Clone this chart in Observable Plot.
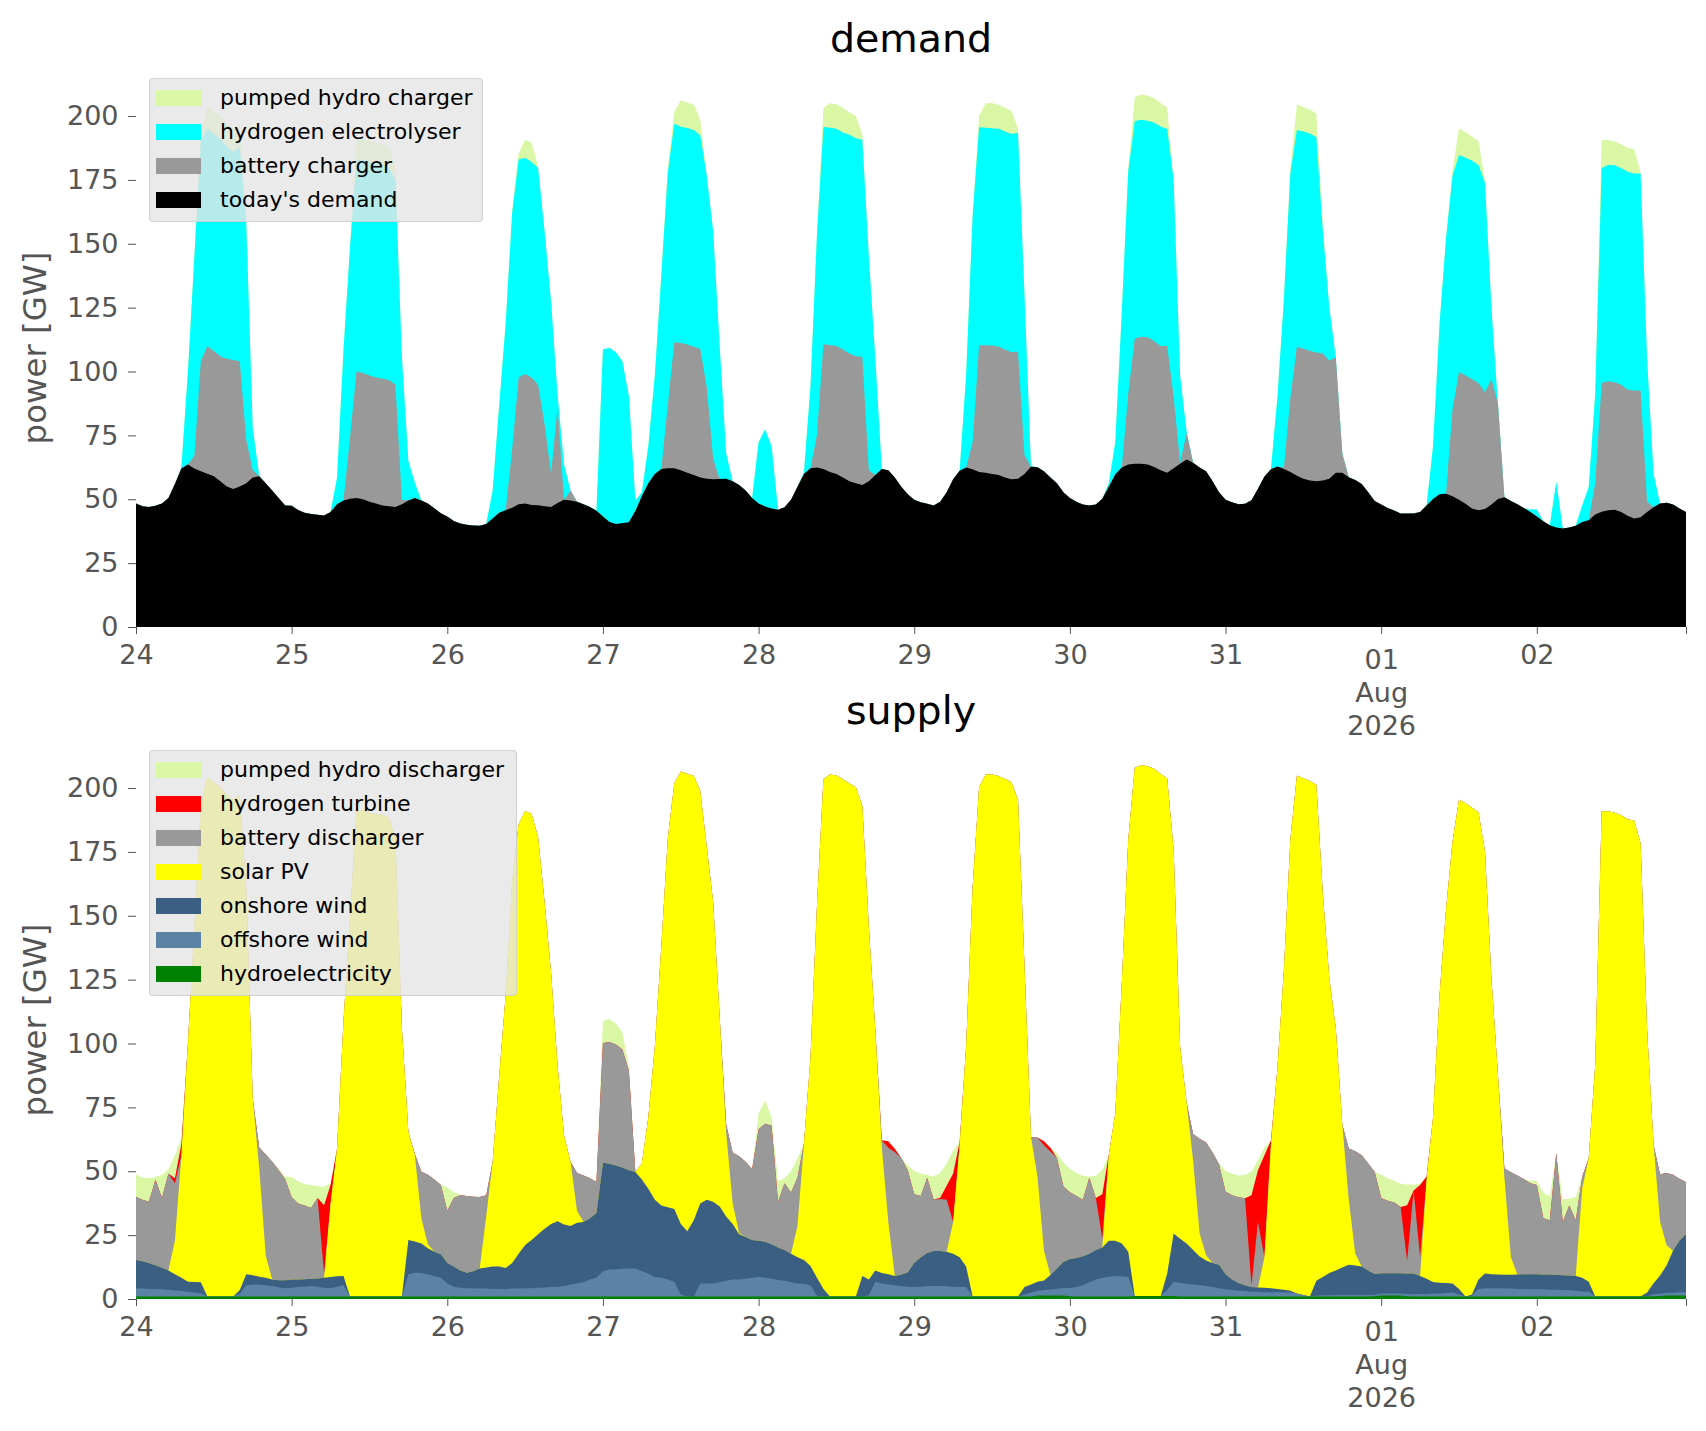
<!DOCTYPE html>
<html>
<head>
<meta charset="utf-8">
<script src="https://cdn.jsdelivr.net/npm/d3@7"></script>
<script src="https://cdn.jsdelivr.net/npm/@observablehq/plot@0.6"></script>
<style>
  html, body { margin: 0; padding: 0; background: #fff; }
  #root { position: relative; width: 1706px; height: 1431px; overflow: hidden; font-family: "DejaVu Sans", sans-serif; }
  .chart { position: absolute; left: 0; }
  .title { position: absolute; left: 136px; width: 1550px; text-align: center; font-size: 39.5px; line-height: 1; color: #000; }
  .ylabel { position: absolute; width: 300px; height: 40px; line-height: 40px; text-align: center; font-size: 32.4px; color: #555; transform: rotate(-90deg); white-space: nowrap; }
  .legend { position: absolute; left: 149px; background: rgba(229,229,229,0.8); border: 1px solid rgba(204,204,204,0.8); border-radius: 4px; box-sizing: border-box; }
  .legend .row { position: absolute; left: 0; height: 34px; display: flex; align-items: center; }
  .legend .sw { position: absolute; left: 6px; width: 45px; height: 16px; }
  .legend .lab { position: absolute; left: 70px; font-size: 22px; line-height: 1; color: #000; white-space: nowrap; }
</style>
</head>
<body>
<div id="root"></div>
<script>
// ---------------- data (hourly, 24 Jul 2026 00:00 .. 02 Aug 2026 23:00) ----------------
const startDay = [2026, 6, 24];

// demand side [GW]
const todaysDemand = [
48.3,47.3,47,47.5,48.3,50.5,56,62,63.6,62,61,60,59,57,55,54,55,56.3,58.5,59,56.3,53.4,50.5,47.6,
47.5,45.8,44.7,44.2,43.9,43.6,45,48,49.5,50.2,50.5,50,49,48.3,47.6,47.3,47,48,49.5,50.5,49.5,48.3,46.5,44.5,
43.3,41.5,40.5,40,39.7,39.6,40.3,42.5,44.7,45.7,46.7,48,48.3,47.8,47.7,47.3,47,48.5,49.8,49.5,49,48,47,45.5,
43.3,41.1,40.3,40.6,41,45.4,51.2,56.3,59.9,61.8,62.1,62.1,61.4,60.4,59.5,58.5,58,57.8,57.9,58,57,55.6,53.4,50.5,
48.3,47.2,46.4,45.9,46.9,49.8,54.9,59.9,62.1,62.4,61.8,60.7,59.9,58.5,57,56.3,55.6,57,59.5,61.8,61.4,58.5,54.9,52,
49.8,48.8,48.2,47.6,49,52.7,57.8,61.2,62.4,61.7,60.7,60.4,59.9,59.5,58.5,57.8,58,59.9,62.7,62.5,61,58.5,56.3,52.7,
50.5,49,47.9,47.6,47.9,50.2,54.9,59.7,62.4,63.6,63.9,63.9,63.6,62.6,61.4,60.4,62.1,63.9,65.6,64.3,62.4,61,57,52.7,
49.8,48.8,48,48.2,49.6,54.1,58.9,61.7,62.8,61.8,60.7,59.2,58,57.3,57,57.3,58,60.4,60.4,58.6,57.5,56,52.7,49.3,
47.9,46.6,45.6,44.4,44.4,44.4,45,47.6,50.1,52,52.2,51.2,49.8,48.2,46.4,45.7,46.2,47.9,50.1,50.8,49.3,48,46.6,45,
43.3,41.4,39.8,38.9,38.6,38.9,39.6,41.1,41.8,44,45.1,45.7,45.9,45,43.5,42.5,43,45,46.9,48.3,48.6,47.9,46.4,45
];
const batteryCharger = [
0,0,0,0,0,0,0,0,0,5,43,50,49,49,50,50.5,49,17,3,0,0,0,0,0,
0,0,0,0,0,0,0,0,0,24,49.5,49.4,49.4,49.4,49.6,49.4,47.8,1.8,0,0,0,0,0,0,
0,0,0,0,0,0,0,0,0,0,22.7,49.7,50.7,49.9,47.1,32.2,13,37.5,0,3.9,0,0,0,0,
0,0,0,0,0,0,0,0,0,0,24.7,49.4,49.8,50.2,50.2,50.4,36,8,0,0,0,0,0,0,
0,0,0,0,0,0,0,0,0,12.8,48.9,49.7,50.1,50.1,50.1,49.7,50.1,4.4,0,0,0,0,0,0,
0,0,0,0,0,0,0,0,0,10.6,49.6,49.9,50.3,50.2,50.1,49.7,49.8,7.3,0,0,0,0,0,0,
0,0,0,0,0,0,0,0,0,27.6,49,49.7,49.8,49.2,48.6,49.6,28,0.4,10.3,0,0,0,0,0,
0,0,0,0,0,0,0,0,0,0.5,29,50.5,50.9,50.8,50.4,49.8,46.2,45.2,7.5,0,0,0,0,0,
0,0,0,0,0,0,0,0,0,0,0,34,50,50.2,50.6,49.8,45.7,49.1,37.4,0,0,0,0,0,
0,0,0,0,0,0,0,0,0,12.3,50.4,50.5,49.9,49.8,49.4,50.1,49.6,4,0,0,0,0,0,0
];
const hydrogenElectrolyser = [
0,0,0,0,0,0,0,0.5,36,78,86,85,85,85,83,81.5,84,85,16.6,0,0,0,0,0,
0,0,0,0,0,0,0,10.5,59,74.5,82.6,83.6,83.6,83.8,84,83.3,80,55.8,15.5,6,0,0,0,0,
0,0,0,0,0,0,0,10.9,42,73,92.6,85.3,84.7,84.3,84.9,75.5,67.4,5,13.8,0,0,0,0,0,
65.3,68.2,67.2,63.4,49.4,4,1.5,14.5,38.5,75.8,91,85.5,84.6,84.7,84.8,83.6,82.8,89,52,10,0,0,0,0,
24,30.2,24.4,0,0,0,0,0.8,32,78.4,85,85,85,85,85.6,85.3,85,83.6,45.5,0,0,0,0,0,
0,0,0,0,0,0,0,0,36,88.5,85.3,85.1,85,85.3,85.3,85.5,85.7,62.8,0.3,0,0,0,0,0,
0,0,0,0,0,0,1.4,12.6,60.6,87.2,85.2,84.9,84.8,85.6,85.9,84.9,85,34,0.5,0,0,0,0,0,
0,0,0,0,0,0,0,0,27,66.1,88,84.8,85,85.1,84.3,48,21,0,0,0,0,0,0,0,
0,0,0,0,0,0,0,0,20.7,66.7,100,91.5,84.9,85.3,85.6,85.2,82,28,0,0,0,0,0,1,
2.7,0,0,18,0,0,0,6.5,13,34.8,84.2,84.6,84.9,84.9,85.3,84.9,84.9,56,13,0,0,0,0,0
];
const pumpedHydroCharger = [
0,0,0,0,0,0,0,0,0,0,3,9,9,9,9,9,9,2,0,0,0,0,0,0,
0,0,0,0,0,0,0,0,0,0,8,8,8,8,8,8,5,0,0,0,0,0,0,0,
0,0,0,0,0,0,0,0,0,0,1,2.5,7,7.5,0.7,0,0,0,0,0,0,0,0,0,
0,0,0,0,0,0,0,0,0,0,2,4.5,10.4,10,10,6,0,0,0,0,0,0,0,0,
0,0,0,0,0,0,0,0,0,0,7.4,9.6,9.6,9.5,8.8,8.7,2,0,0,0,0,0,0,0,
0,0,0,0,0,0,0,0,0,0,4.4,9.6,9.8,9.4,9.3,9,1.5,0,0,0,0,0,0,0,
0,0,0,0,0,0,0,0,0,1,9.3,9.9,9.8,9.6,9.1,8.3,0,0,0,0,0,0,0,0,
0,0,0,0,0,0,0,0,0,0,2,10,9.6,9.3,9.3,3,0,0,0,0,0,0,0,0,
0,0,0,0,0,0,0,0,0,0,0,2,10.4,10,9.4,9.5,1,0,0,0,0,0,0,0,
0,0,0,0,0,0,0,0,0,0,10.8,9.8,9.3,9.3,9.3,9.5,0.5,0,0,0,0,0,0,0
];

// supply side [GW]
const hydroelectricity = [
1,1,1,1,1,1,1,1,1,1,1,1,1,1,1,1,1,1,1,1,1,1,1,1,
1,1,1,1,1,1,1,1,1,1,1,1,1,1,1,1,1,1,1,1,1,1,1,1,
1,1,1,1,1,1,1,1,1,1,1,1,1,1,1,1,1,1,1,1,1,1,1,1,
1,1,1,1,1,1,1,1,1,1,1,1,1,1,1,1,1,1,1,1,1,1,1,1,
1,1,1,1,1,1,1,1,1,1,1,1,1,1,1,1,1,1,1,1,1,1,1,1,
1,1,1,1,1,1,1,1,1,1,1,1,1,1,1,1,1,1,1,1.4,1.4,1.4,1.4,1.4,
1.1,1,1,1,1,1,1,1,1,1,1.2,1.2,1.2,1.2,1.2,1.2,1.2,1,1,1,1,1,1,1,
1,1,1,1,1,1,1,1,1,1,1,1,1,1,1,1,1,1,1,1,1,1,1,1.1,
1.4,1.4,1.4,1.4,1.1,1,1,1,1,1,1,1,1,1,1,1,1,1,1,1,1,1,1,1,
1,1,1,1,1,1,1,1,1,1,1,1,1,1,1,1,1,1,1.1,1.2,1.4,1.4,1.4,1.4
];
const offshoreWind = [
3.2,3.1,2.9,2.9,2.8,2.6,2.3,2.1,1.8,1.5,1.2,0,0,0,0,0,1,4.4,4.7,4.7,4.4,4.1,3.5,3.2,
3.4,3.7,3.8,4.1,3.8,3.4,3.2,3.8,4.4,0,0,0,0,0,0,0,0,0,8.7,9.3,9.2,8.7,8,7.3,
5.1,3.8,3.4,3.2,3.2,3.1,3.1,2.9,2.9,2.9,3.1,3.1,3.2,3.2,3.4,3.5,3.7,3.8,4.1,4.7,5.1,5.6,6.6,7.3,
9.9,10.5,10.6,10.8,10.9,10.9,9.9,9,7.6,7.3,6.6,5.8,0.8,0,0,5.1,5.1,5.1,5.6,6.1,6.6,6.6,6.9,7.3,
7.6,7.3,6.9,6.4,6.1,5.6,5.1,5,4.4,0.3,0,0,0,0,0,0,0,0.5,5.8,5.1,4.7,4.4,4.1,3.8,
3.7,3.8,4,4.1,4.1,4,3.8,3.7,3.7,0,0,0,0,0,0,0,0,0.8,1.5,1.8,2.1,2.3,2.6,2.9,
3.2,3.7,4.4,5.6,6.6,7.3,7.7,8,7.9,7.6,0,0,0,0,0,2.2,5.6,5.3,5,4.7,4.4,4.1,3.7,3.2,
2.8,2.5,2.2,2.1,1.8,1.8,1.6,1.6,1.6,1.5,1.5,1.2,0.6,0,0.3,0.5,0.5,0.6,0.6,0.6,0.6,0.6,0.6,0.6,
0.8,0.8,0.8,0.8,0.9,0.9,1,1,1.2,1.2,1.3,1.5,0.8,0,0.3,2.9,3.2,3.2,3.2,3.2,3.1,2.9,2.9,2.8,
2.8,2.8,2.6,2.6,2.5,2.4,2.2,1.9,1.8,0,0,0,0,0,0,0,0,0,0.8,0.9,1,1,1.2,1.2
];
const onshoreWind = [
11.1,10.7,10.2,9.3,8.4,7.6,6.4,5.2,4,4.2,4.4,0,0,0,0,0,1.5,4.3,3.6,3,2.9,2.5,2.8,3.1,
3.2,2.9,2.9,2.8,3.2,3.9,4.4,4.1,3.6,0,0,0,0,0,0,0,0,0,13.4,12.2,11.5,10.2,9.5,9.2,
8,7.9,6.8,6.1,6.7,7.8,8.2,8.8,8.8,8.2,10,13.6,16.9,18.9,20.9,23,24.7,25.6,24.1,22.9,23.7,23.5,24,25.4,
42.4,41.4,40.7,39.7,38.5,37.8,35.9,33.2,30.2,28.3,28.3,28.4,27.6,25.5,29.8,31.3,32.7,32,29.6,25.2,21.8,17.7,16.4,14.8,
14.2,14.1,13.5,12.8,12.1,11.1,10.2,9.3,7.5,7,2.9,0,0,0,0,0,8,6.1,4.4,4.1,4,3.6,4.4,5.7,
9.4,11.5,13,13.7,13.7,13.5,12.9,11.6,8,0,0,0,0,0,0,0,0,2.9,3.2,3.6,3.7,5.7,7.9,10.2,
11.4,11.3,11.3,11.1,11.6,11.9,14.1,13.8,12.8,9.9,0,0,0,0,0,6.5,18.8,17.3,15.7,13.5,11.2,10,9.4,9.2,
5.9,4.1,3.1,2.3,1.9,1.7,1.8,1.6,1.3,1.1,0.7,0,0,0,5.8,7.1,8.7,9.6,10.7,11.8,11.5,11.1,9.6,8.1,
7.9,7.9,7.9,7.9,8,8.1,7,5.9,4.5,4.2,4,3.6,2.1,0,0.5,3.7,5.8,5.5,5.4,5.3,5.4,5.7,5.8,5.9,
5.9,5.8,6,5.9,5.8,5.8,5.8,5.4,4,0,0,0,0,0,0,0,0,1.5,4.3,7.1,10.7,16.5,20.3,22.8
];
const solarPV = [
0,0,0,0,0,0,13.1,48,93.1,138.6,186.7,203.3,201.3,199.3,196.3,194.3,193.8,150.9,69.1,42.6,8.7,0,0,0,
0,0,0,0,0,0,28.7,49.9,99.8,148,189.9,190.3,189.3,188.8,188.5,187.3,179.1,104.9,42.2,33.8,9.9,1.5,0,0,
0,0,0,0,0,0,20,41,74.3,106.9,149.2,168.1,169.9,166.7,155.4,127.8,98.3,60.9,34.7,25.1,4.7,0,0,0,
0,0,0,0,0,0,6.2,27.9,59.9,101.3,144.2,166.6,177.1,179.1,174,161.4,138.3,117,74,32.7,8,0.4,0,0,
0,0,0,0,0,0,12.3,45.7,81.5,145.6,199.5,204.3,203.9,202.4,200.8,199.3,184,137.7,94.1,49,20.4,0,0,0,
0,0,0,0,0,0,12.4,44,86,160.1,199.3,204.3,204.3,203.7,202.5,201.3,194.3,125.6,57.6,41.1,11.7,0,0,0,
0,0,0,0,0,0,33.5,49.8,101.6,161.2,206.7,207.7,207.3,206.3,204.3,193.8,150,75,55,34.9,9.1,1.9,0,0,
0,0,0,0,0,0,11.9,56.4,86.2,125.1,176.8,202.6,202.2,201.8,194.2,149.8,115.3,94.7,55.9,25.4,4.6,0,0,0,
0,0,0,0,0,0,0,38.9,64.4,112.6,146.2,172.9,191.5,193,190.5,182.9,165.2,115.6,78.2,38,6.8,0,0,0,
0,0,0,0,0,0,0,35,48.3,90.4,189.8,189.9,189.3,188.3,186.8,186.3,177.3,102.8,54.1,21.1,7.9,0,0,0
];
const batteryDischarger = [
24.7,24,24,33.6,27.3,37.8,22.5,0,0,0,0,0,0,0,0,0,0,0,0,8,39.6,46.1,43.1,39.6,
32.2,29.8,28.9,27.7,31.5,1.4,0,0,0,0,0,0,0,0,0,0,0,0,0,0.5,18.2,27.2,28.3,27.1,
20.4,26.8,29.4,30,29.1,28,8.3,0,0,0,0,0,0,0,0,0,0,0,0,0,14.8,18.2,15.7,12.1,
46.9,47.7,47.3,46.2,38.9,0,0,0,0,0,0,0,0,0,0,0,0,0,0,3.3,19.9,30.2,29.4,27.7,
43.6,46.2,46.5,17.9,26.1,24,18.9,0,0,0,0,0,0,0,0,0,0,0,0,2.9,29.1,48.5,45.7,39.9,
26.9,24,29.5,20,20.3,20.3,0,0,0,0,0,0,0,0,0,0,0,0,0,15.3,41.3,48.3,43.3,29.5,
26.1,24.3,22.1,29.8,20.3,3.4,0,0,0,0,0,0,0,0,0,0,0,0,0,10.5,37,44.3,43.2,39.2,
32.3,33,33.5,34,0.7,25.6,0,0,0,0,0,0,0,0,0,0,0,0,0,20.1,40.1,43.6,41.8,39.9,
29.4,28.4,27.7,25.9,4.9,32.5,7.3,0,0,0,0,0,0,0,0,0,0,0,0,3.6,33.3,38.7,37.2,35.6,
34.9,22,21.2,47.5,20.8,27.4,21.8,4.6,0,0,0,0,0,0,0,0,0,0,0,18.5,28.3,29.7,24.2,20.3
];
const hydrogenTurbine = [
0,0,0,0,0,0,2,4.3,0,0,0,0,0,0,0,0,0,0,0,0,0,0,0,0,
0,0,0,0,0,27,7.3,0,0,0,0,0,0,0,0,0,0,0,0,0,0,0,0,0,
0,0,0,0,0,0,0,0,0,0,0,0,0,0,0,0,0,0,0,0,0,0,0,0,
0,0,0,0,0,0,0,0,0,0,0,0,0,0,0,0,0,0,0,0,0,0,0,0,
0,0,0,0,0,0,0,0,0,0,0,0,0,0,0,0,0,0,0,0,2.5,1.3,0,0,
0,0,0,0,0.5,5.5,19,1.2,0,0,0,0,0,0,0,0,0,0,0,0,1.5,1.5,0,0,
0,0,0,0,0,17.4,0.3,0,0,0,0,0,0,0,0,0,0,0,0,0,0,0,0,0,
0,0,0,0,35.2,20.3,40,1.4,0,0,0,0,0,0,0,0,0,0,0,0,0,0,0,0,
0,0,0,0,21.8,0,28.3,1.1,0,0,0,0,0,0,0,0,0,0,0,0,0,0,0,0,
0,0,0,0,0,0,0,0,0,0,0,0,0,0,0,0,0,0,0,0,0,0,0,0
];
const pumpedHydroDischarger = [
8.6,8.8,9.2,1,9.1,1.8,9,2.2,0,0,0,0,0,0,0,0,0,0,0,0,0,0,0.4,1,
8,8.7,8.4,8.9,4.7,7.2,0.7,0,0,0,0,0,0,0,0,0,0,0,0,0,0,0,0,0.2,
9.1,2.3,0.2,0,0,0,0,0,0,0,0,0,0,0,0,0,0,0,0,0,0,0,0,0,
8.7,9,8.2,6.6,1.4,0,0,0,0,0,0,0,0,0,0,0,0,0,0,0,0,0,0,0,
6.2,9.1,3.2,8.1,1.9,8.4,7.7,0,0,0,0,0,0,0,0,0,0,0,0,0,0,0,0,1.9,
9.1,8.8,1,9.1,9.7,8.7,9,0,0,0,0,0,0,0,0,0,0,0,0,0,0,0,1.8,9.4,
9.1,9,9.4,0.4,8.7,9.5,0,0,0,0,0,0,0,0,0,0,0,0,0,0,0,0,0,0.4,
8.1,8.5,8.5,9.1,9.3,4,2.9,0,0,0,0,0,0,0,0,0,0,0,0,0,0,0,0,0,
9.1,8.8,8.5,9.1,8.1,2.2,0.7,0,0,0,0,0,0,0,0,0,0,0,0,0,0,0,0,1,
1.7,10.1,9.3,0.2,8.8,2.6,9.1,0,0,0,0,0,0,0,0,0,0,0,0,0,0,0,0,0
];

// axis ticks and labels
const yTicks = [0, 25, 50, 75, 100, 125, 150, 175, 200];
const dayLabels = ["24", "25", "26", "27", "28", "29", "30", "31", "01\nAug\n2026", "02"];

// series definitions (stack order: bottom first)
const demandSeries = [
  {name: "today's demand", values: todaysDemand, color: "#000000"},
  {name: "battery charger", values: batteryCharger, color: "#999999"},
  {name: "hydrogen electrolyser", values: hydrogenElectrolyser, color: "#00ffff"},
  {name: "pumped hydro charger", values: pumpedHydroCharger, color: "#daf7a6"}
];
const supplySeries = [
  {name: "hydroelectricity", values: hydroelectricity, color: "#008000"},
  {name: "offshore wind", values: offshoreWind, color: "#5b83a6"},
  {name: "onshore wind", values: onshoreWind, color: "#3a5f82"},
  {name: "solar PV", values: solarPV, color: "#ffff00"},
  {name: "battery discharger", values: batteryDischarger, color: "#999999"},
  {name: "hydrogen turbine", values: hydrogenTurbine, color: "#ff0000"},
  {name: "pumped hydro discharger", values: pumpedHydroDischarger, color: "#daf7a6"}
];

// ---------------- rendering ----------------
const HOUR = 3600e3;
const t0 = Date.UTC(startDay[0], startDay[1], startDay[2], 0);
const nHours = todaysDemand.length;
const times = todaysDemand.map((_, i) => new Date(t0 + i * HOUR));
const xDomain = [times[0], times[nHours - 1]];
const dayDates = dayLabels.map((_, i) => new Date(t0 + i * 24 * HOUR));
const xTickDates = [...dayDates, times[nHours - 1]];
const labelRows = dayLabels.map((label, i) => ({t: dayDates[i], label}));

function cumulate(series) {
  const cum = new Array(nHours).fill(0);
  return series.map(s => {
    const rows = times.map((t, i) => { cum[i] += s.values[i]; return {t, c: cum[i]}; });
    return {...s, rows};
  });
}

const W = 1706, H = 760, mTop = 68, mBottom = H - 627, mLeft = 136, mRight = 20;

function makeChart(series) {
  const stacked = cumulate(series);
  const areas = stacked.slice().reverse().map(s =>
    Plot.areaY(s.rows, {x: "t", y1: 0, y2: "c", fill: s.color, curve: "linear"}));
  return Plot.plot({
    width: W, height: H,
    marginTop: mTop, marginBottom: mBottom, marginLeft: mLeft, marginRight: mRight,
    x: {type: "utc", domain: xDomain},
    y: {domain: [0, 218.8]},
    style: {background: "transparent", fontFamily: "DejaVu Sans", color: "#555", overflow: "visible"},
    marks: [
      ...areas,
      Plot.axisY({ticks: yTicks, tickSize: 8, tickPadding: 10, fontSize: 27, label: null}),
      Plot.axisX({ticks: xTickDates, tickSize: 7, tickFormat: () => "", label: null}),
      Plot.text(labelRows.filter(d => !d.label.includes("\n")),
        {x: "t", text: "label", frameAnchor: "bottom", dy: 17, lineAnchor: "top", fontSize: 27, fill: "#555"}),
      Plot.text(labelRows.filter(d => d.label.includes("\n")),
        {x: "t", text: "label", frameAnchor: "bottom", dy: 18, lineAnchor: "top", lineHeight: 1.22, fontSize: 27, fill: "#555"})
    ]
  });
}

const root = document.getElementById("root");

function addPanel(series, offset, title, legendTop) {
  const svg = makeChart(series);
  svg.classList.add("chart");
  svg.style.top = offset + "px";
  root.appendChild(svg);

  const tt = document.createElement("div");
  tt.className = "title";
  tt.style.top = (offset + 18.5) + "px";
  tt.textContent = title;
  root.appendChild(tt);

  const yl = document.createElement("div");
  yl.className = "ylabel";
  yl.style.left = (35 - 150) + "px";
  yl.style.top = (offset + 348 - 20) + "px";
  yl.textContent = "power [GW]";
  root.appendChild(yl);

  const lg = document.createElement("div");
  lg.className = "legend";
  const items = series.slice().reverse();
  lg.style.top = (offset + legendTop) + "px";
  lg.style.width = (series.length > 4 ? 368 : 334) + "px";
  lg.style.height = (144 + (items.length - 4) * 34) + "px";
  items.forEach((s, k) => {
    const row = document.createElement("div");
    row.className = "row";
    row.style.top = (2 + 34 * k) + "px";
    const sw = document.createElement("div");
    sw.className = "sw";
    sw.style.background = s.color;
    const lab = document.createElement("div");
    lab.className = "lab";
    lab.textContent = s.name;
    row.appendChild(sw);
    row.appendChild(lab);
    lg.appendChild(row);
  });
  root.appendChild(lg);
}

addPanel(demandSeries, 0, "demand", 78);
addPanel(supplySeries, 672, "supply", 78);
</script>
</body>
</html>
